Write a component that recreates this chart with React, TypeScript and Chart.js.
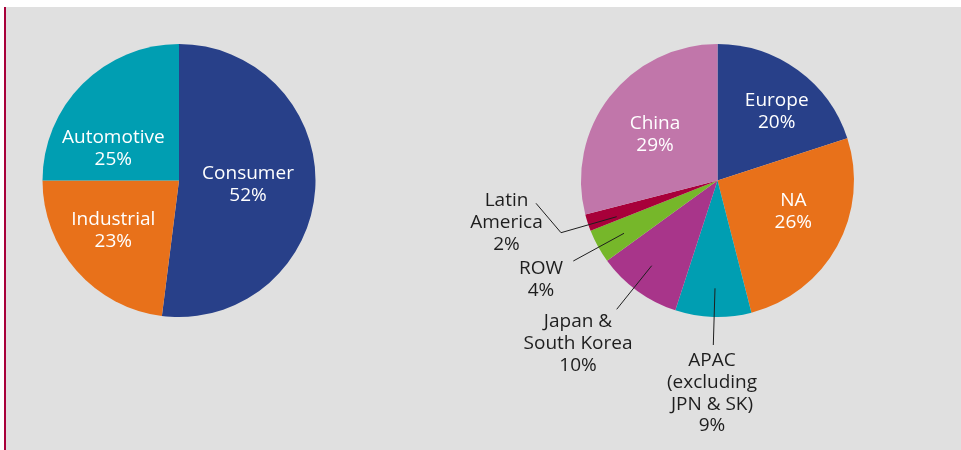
import React, { useEffect, useRef } from "react";
import { Chart, registerables } from "chart.js";

Chart.register(...registerables);

// ---- Data ----
const segmentCategories = ["Consumer", "Industrial", "Automotive"];
const segmentValues = [52, 23, 25];
const segmentColors = ["#284089", "#E8711A", "#009EB2"];

const regionCategories = [
  "Europe",
  "NA",
  "APAC\n(excluding\nJPN & SK)",
  "Japan &\nSouth Korea",
  "ROW",
  "Latin\nAmerica",
  "China",
];
const regionValues = [20, 26, 9, 10, 4, 2, 29];
const regionColors = ["#284089", "#E8711A", "#009EB2", "#A8358A", "#76B72A", "#A8003A", "#C176AA"];

// ---- Label layout (offsets relative to pie centre, in units of radius) ----
type LabelLayout = {
  dx: number;
  dy: number;
  color: string;
  leader?: [number, number][];
};
const R = 136.5;
const segmentLabelLayout: LabelLayout[] = [
  { dx: 69 / R, dy: 4.2 / R, color: "#ffffff" },
  { dx: -65.7 / R, dy: 50 / R, color: "#ffffff" },
  { dx: -65.7 / R, dy: -31.7 / R, color: "#ffffff" },
];
const regionLabelLayout: LabelLayout[] = [
  { dx: 59.2 / R, dy: -69 / R, color: "#ffffff" },
  { dx: 75.8 / R, dy: 31.2 / R, color: "#ffffff" },
  {
    dx: -5.5 / R, dy: 213 / R, color: "#1e1e1e",
    leader: [[-2.5 / R, 107.8 / R], [-4.2 / R, 164.5 / R]],
  },
  {
    dx: -139.5 / R, dy: 163 / R, color: "#1e1e1e",
    leader: [[-65.8 / R, 85.2 / R], [-100.8 / R, 128.8 / R]],
  },
  {
    dx: -176.5 / R, dy: 99 / R, color: "#1e1e1e",
    leader: [[-93.5 / R, 52.8 / R], [-144.2 / R, 80.5 / R]],
  },
  {
    dx: -211 / R, dy: 42 / R, color: "#1e1e1e",
    leader: [[-100.8 / R, 36.2 / R], [-156.5 / R, 52.2 / R], [-181.5 / R, 22.8 / R]],
  },
  { dx: -62.5 / R, dy: -46 / R, color: "#ffffff" },
];

const FONT = "19px 'Open Sans', 'Noto Sans', sans-serif";
const LINE_H = 21.7;

function makeLabelPlugin(categories: string[], values: number[], layout: LabelLayout[]) {
  return {
    id: "pieLabels",
    afterDatasetsDraw(chart: any) {
      const ctx = chart.ctx as CanvasRenderingContext2D;
      const meta = chart.getDatasetMeta(0);
      meta.data.forEach((arc: any, i: number) => {
        const { x, y, outerRadius } = arc.getProps(["x", "y", "outerRadius"], true);
        const L = layout[i];
        ctx.save();
        if (L.leader) {
          ctx.strokeStyle = "#1e1e1e";
          ctx.lineWidth = 1;
          ctx.beginPath();
          L.leader.forEach(([px, py], k) => {
            const X = x + px * outerRadius;
            const Y = y + py * outerRadius;
            if (k === 0) ctx.moveTo(X, Y);
            else ctx.lineTo(X, Y);
          });
          ctx.stroke();
        }
        const lines = [...categories[i].split("\n"), `${values[i]}%`];
        ctx.font = FONT;
        ctx.fillStyle = L.color;
        ctx.textAlign = "center";
        ctx.textBaseline = "middle";
        const cx = x + L.dx * outerRadius;
        const cy = y + L.dy * outerRadius;
        const top = cy - ((lines.length - 1) * LINE_H) / 2;
        lines.forEach((t, k) => ctx.fillText(t, cx, top + k * LINE_H));
        ctx.restore();
      });
    },
  };
}

function PieCanvas(props: {
  left: number;
  width: number;
  categories: string[];
  values: number[];
  colors: string[];
  layout: LabelLayout[];
  padding: { left: number; right: number; top: number; bottom: number };
}) {
  const ref = useRef<HTMLCanvasElement | null>(null);
  useEffect(() => {
    if (!ref.current) return;
    const chart = new Chart(ref.current, {
      type: "pie",
      data: {
        labels: props.categories,
        datasets: [
          {
            data: props.values,
            backgroundColor: props.colors,
            borderWidth: 0,
            hoverBorderWidth: 0,
            hoverOffset: 0,
            offset: 0,
          } as any,
        ],
      },
      options: {
        animation: false,
        responsive: false,
        events: [],
        layout: { padding: props.padding },
        plugins: {
          legend: { display: false },
          tooltip: { enabled: false },
          title: { display: false },
        },
      },
      plugins: [makeLabelPlugin(props.categories, props.values, props.layout)],
    });
    return () => chart.destroy();
  }, []);
  return (
    <canvas
      ref={ref}
      width={props.width}
      height={450}
      style={{ position: "absolute", left: props.left, top: 0, width: props.width, height: 450 }}
    />
  );
}

export default function App() {
  return (
    <div
      style={{
        position: "fixed",
        left: 0,
        top: 0,
        width: 961,
        height: 450,
        background: "#ffffff",
        overflow: "hidden",
      }}
    >
      <div
        style={{
          position: "absolute",
          left: 4,
          top: 7,
          right: 0,
          bottom: 0,
          background: "#E0E0E0",
          borderLeft: "2px solid #A8003A",
        }}
      />
      <PieCanvas
        left={0}
        width={430}
        categories={segmentCategories}
        values={segmentValues}
        colors={segmentColors}
        layout={segmentLabelLayout}
        padding={{ left: 42.5, right: 114.5, top: 44, bottom: 133 }}
      />
      <PieCanvas
        left={430}
        width={531}
        categories={regionCategories}
        values={regionValues}
        colors={regionColors}
        layout={regionLabelLayout}
        padding={{ left: 151, right: 107, top: 44, bottom: 133 }}
      />
    </div>
  );
}
